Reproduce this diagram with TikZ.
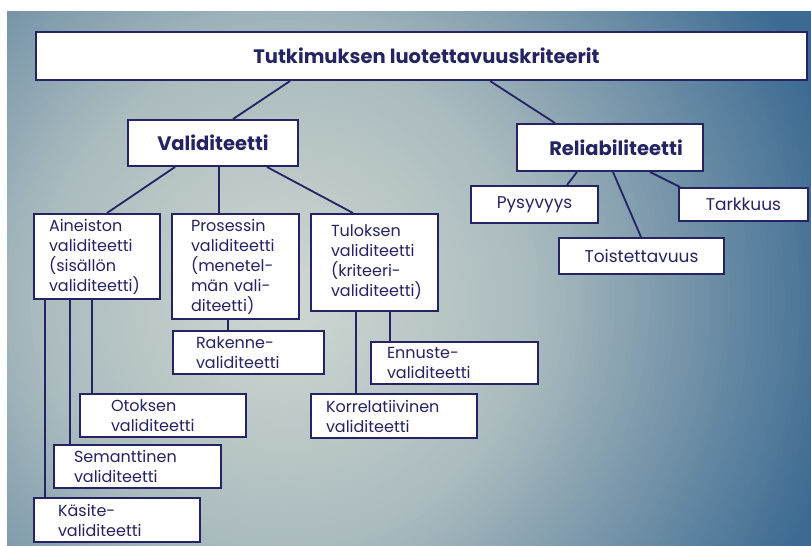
\documentclass[tikz,border=0pt]{standalone}
\usepackage{fontspec}
\setmainfont{Poppins}
\definecolor{navy}{RGB}{36,36,100}
\definecolor{bglight}{RGB}{208,216,210}
\definecolor{bgmid}{RGB}{170,187,190}
\definecolor{bgdark}{RGB}{60,106,146}

\tikzset{
  box/.style={draw=navy, line width=2pt, fill=white, anchor=north west,
    inner sep=0pt, text=navy},
  txt/.style={font=\fontsize{16}{20}\selectfont, align=left},
  head/.style={font=\fontsize{19.5}{22}\selectfont\bfseries, align=center},
  one/.style={font=\fontsize{17}{20}\selectfont, align=center},
  link/.style={draw=navy, line width=1.8pt},
}

\begin{document}
\begin{tikzpicture}[x=1pt,y=-1pt]
\useasboundingbox (0,0) rectangle (811,546);
\fill[white] (0,0) rectangle (811,546);

% soft radial background, light left of centre, darkening outward
\begin{scope}
  \clip (7,11) rectangle (811,546);
  \fill[bgdark] (7,11) rectangle (811,546);
  \foreach \r in {600,595,...,5}{
    \pgfmathsetmacro\a{max(0,min(100,(\r-250)/320*100))}
    \pgfmathsetmacro\b{max(0,min(100,\r/250*100))}
    \fill[bgdark!\a!bgmid!\b!bglight] (285,300) circle (\r);
  }
\end{scope}

% top levels
\node[box, head, minimum width=771pt, minimum height=48pt] (title) at (35,31)
  {\hspace*{10pt}Tutkimuksen luotettavuuskriteerit};
\node[box, head, minimum width=170pt, minimum height=46pt] (vali) at (127,119)
  {Validiteetti};
\node[box, head, minimum width=186pt, minimum height=47pt] (reli) at (516,123)
  {\hspace*{12pt}Reliabiliteetti};

% validity branch
\node[box, txt, minimum width=126pt, minimum height=85pt, text width=96pt,
  inner xsep=15pt] (ain) at (33,213)
  {Aineiston\\validiteetti\\(sisällön\\validiteetti)};
\node[box, txt, minimum width=127pt, minimum height=105pt, text width=89pt,
  inner xsep=19pt] (pros) at (171,213)
  {Prosessin\\validiteetti\\(menetel-\\män vali-\\diteetti)};
\node[box, txt, minimum width=127pt, minimum height=97pt, text width=87pt,
  inner xsep=20pt] (tul) at (310,213)
  {Tuloksen\\validiteetti\\(kriteeri-\\validiteetti)};

\node[box, txt, minimum width=151pt, minimum height=43pt, text width=105pt,
  inner xsep=23pt] (rak) at (172,330) {Rakenne-\\validiteetti};
\node[box, txt, minimum width=167pt, minimum height=42pt, text width=135pt,
  inner xsep=16pt] (enn) at (370,341) {Ennuste-\\validiteetti};
\node[box, txt, minimum width=166pt, minimum height=44pt, text width=136pt,
  inner xsep=15pt] (kor) at (310,393) {Korrelatiivinen\\validiteetti};

\node[box, txt, minimum width=166pt, minimum height=43pt, text width=104pt,
  inner xsep=31pt] (oto) at (79,393) {Otoksen\\validiteetti};
\node[box, txt, minimum width=167pt, minimum height=43pt, text width=127pt,
  inner xsep=20pt] (sem) at (53,444) {Semanttinen\\validiteetti};
\node[box, txt, minimum width=166pt, minimum height=44pt, text width=118pt,
  inner xsep=24pt] (kas) at (33,497) {Käsite-\\validiteetti};

% reliability branch
\node[box, one, minimum width=127pt, minimum height=37pt] (pys) at (470,185) {Pysyvyys};
\node[box, one, minimum width=129pt, minimum height=33pt] (tark) at (678,187) {Tarkkuus};
\node[box, one, minimum width=165pt, minimum height=36pt] (tois) at (558,237) {Toistettavuus};

% connectors
\draw[link] ([xshift=255pt]title.south west) -- ([xshift=106pt]vali.north west);
\draw[link] ([xshift=455pt]title.south west) -- ([xshift=39pt]reli.north west);

\draw[link] ([xshift=48pt]vali.south west) -- ([xshift=74pt]ain.north west);
\draw[link] ([xshift=92pt]vali.south west) -- ([xshift=48pt]pros.north west);
\draw[link] ([xshift=140pt]vali.south west) -- ([xshift=43pt]tul.north west);

\draw[link] ([xshift=12pt]ain.south west) -- ([xshift=12pt]kas.north west);
\draw[link] ([xshift=37pt]ain.south west) -- ([xshift=17pt]sem.north west);
\draw[link] ([xshift=59pt]ain.south west) -- ([xshift=13pt]oto.north west);

\draw[link] ([xshift=57pt]pros.south west) -- ([xshift=56pt]rak.north west);
\draw[link] ([xshift=46pt]tul.south west) -- ([xshift=46pt]kor.north west);
\draw[link] ([xshift=80pt]tul.south west) -- ([xshift=20pt]enn.north west);

\draw[link] ([xshift=61pt]reli.south west) -- ([xshift=97pt]pys.north west);
\draw[link] ([xshift=97pt]reli.south west) -- ([xshift=83pt]tois.north west);
\draw[link] ([xshift=134pt]reli.south west) -- ([xshift=2pt]tark.north west);
\end{tikzpicture}
\end{document}
